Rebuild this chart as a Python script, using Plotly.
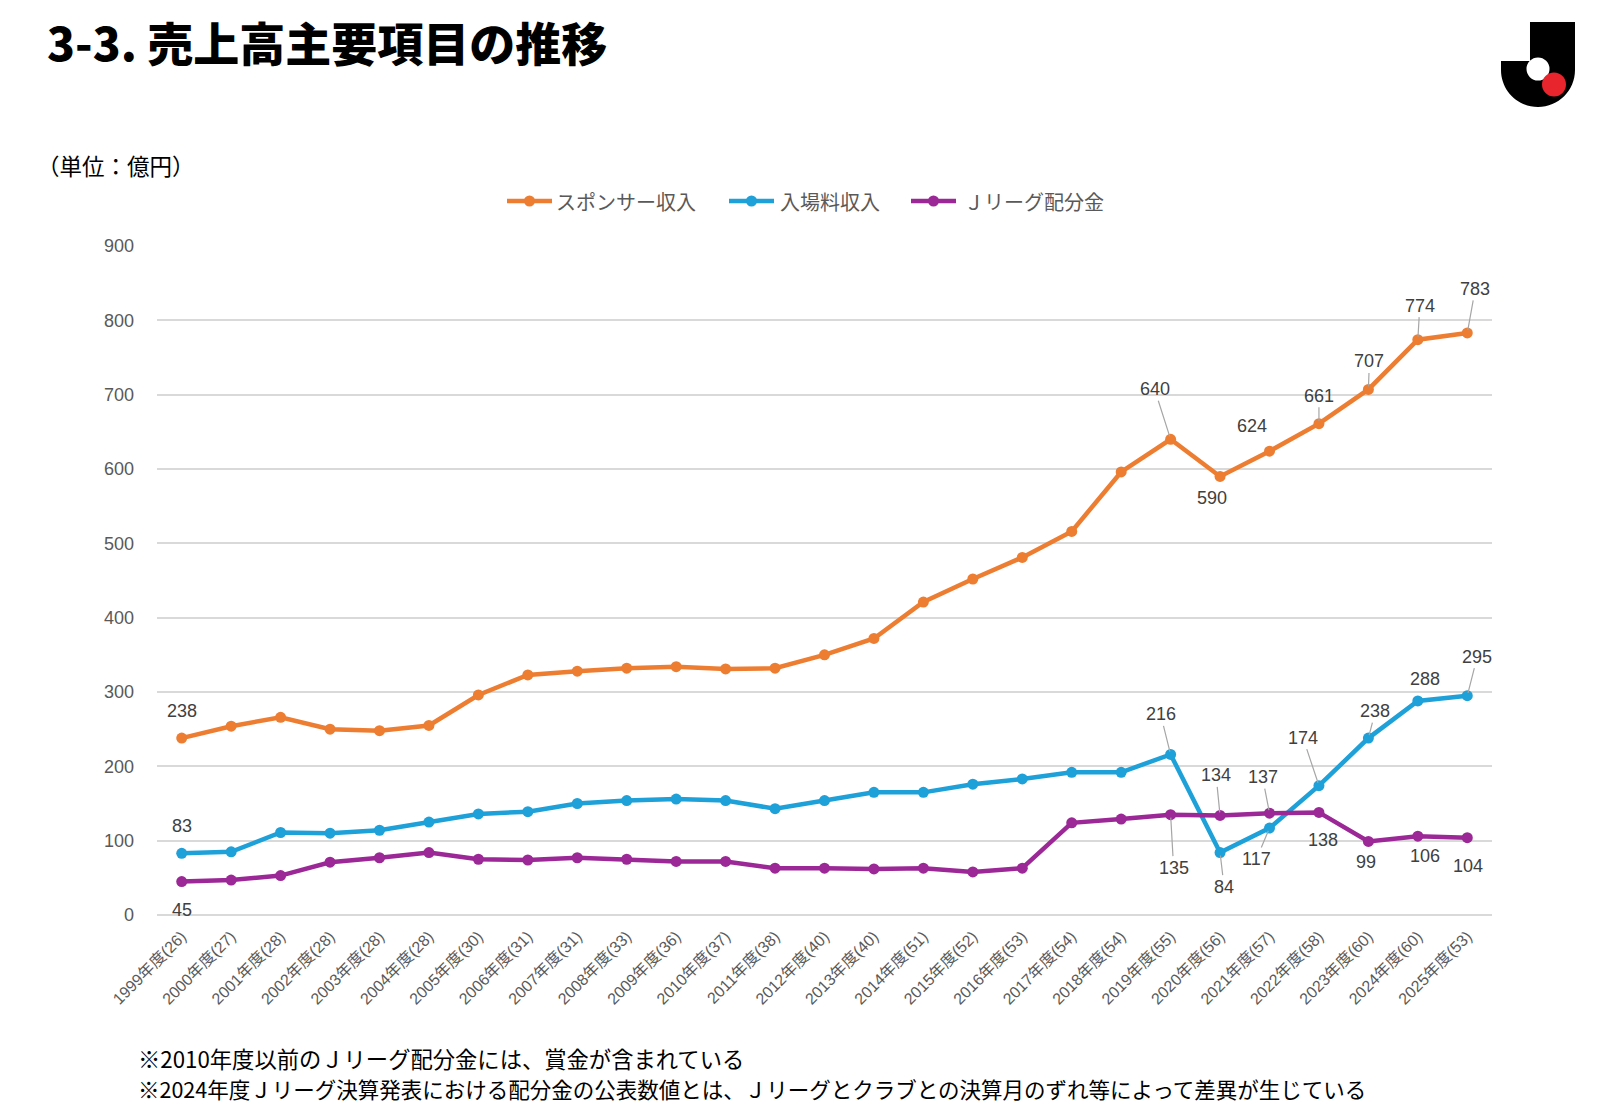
import plotly.graph_objects as go

# ---------------- DATA ----------------
categories = [
    "1999年度(26)", "2000年度(27)", "2001年度(28)", "2002年度(28)", "2003年度(28)",
    "2004年度(28)", "2005年度(30)", "2006年度(31)", "2007年度(31)", "2008年度(33)",
    "2009年度(36)", "2010年度(37)", "2011年度(38)", "2012年度(40)", "2013年度(40)",
    "2014年度(51)", "2015年度(52)", "2016年度(53)", "2017年度(54)", "2018年度(54)",
    "2019年度(55)", "2020年度(56)", "2021年度(57)", "2022年度(58)", "2023年度(60)",
    "2024年度(60)", "2025年度(53)",
]
sponsor = [238, 254, 266, 250, 248, 255, 296, 323, 328, 332, 334, 331, 332, 350, 372,
           421, 452, 481, 516, 596, 640, 590, 624, 661, 707, 774, 783]
ticket = [83, 85, 111, 110, 114, 125, 136, 139, 150, 154, 156, 154, 143, 154, 165,
          165, 176, 183, 192, 192, 216, 84, 117, 174, 238, 288, 295]
distribution = [45, 47, 53, 71, 77, 84, 75, 74, 77, 75, 72, 72, 63, 63, 62,
                63, 58, 63, 124, 129, 135, 134, 137, 138, 99, 106, 104]
series_names = ["スポンサー収入", "入場料収入", "Ｊリーグ配分金"]
y_ticks = [0, 100, 200, 300, 400, 500, 600, 700, 800, 900]

title_text = "3-3. 売上高主要項目の推移"
unit_text = "（単位：億円）"
notes = [
    "※2010年度以前のＪリーグ配分金には、賞金が含まれている",
    "※2024年度Ｊリーグ決算発表における配分金の公表数値とは、Ｊリーグとクラブとの決算月のずれ等によって差異が生じている",
]

# ---------------- STYLE ----------------
OFF = 8                      # default page body margin
W, H = 1600 - OFF, 1112 - OFF
ML, MR, MT, MB = 149, 108, 238, 197
PW, PH = W - ML - MR, H - MT - MB

def px(x):  # screenshot pixel -> paper
    return (x - OFF - ML) / PW

def py(y):
    return (H - MB - (y - OFF)) / PH

colors = ["#ED7D31", "#1EA0D8", "#9B2896"]
FONT_NUM = "Liberation Sans, Arial, Noto Sans CJK JP, sans-serif"
FONT_JP = "Noto Sans CJK JP, sans-serif"
GRID = "#D9D9D9"
LINE_W, MARK = 4.5, 11

# label placement: index -> (dx, dy, leader line)
label_pos = [
    {0: (0, -27, False), 20: (-16, -50, True), 21: (-8, 22, False), 22: (-18, -25, False),
     23: (0, -28, True), 24: (1, -28, True), 25: (2, -34, True), 26: (8, -44, True)},
    {0: (0, -27, False), 20: (-10, -40, True), 21: (4, 34, True), 22: (-13, 31, True),
     23: (-16, -48, True), 24: (7, -27, True), 25: (7, -22, False), 26: (10, -39, True)},
    {0: (0, 28, False), 20: (3, 53, True), 21: (-4, -40, True), 22: (-7, -36, True),
     23: (4, 28, False), 24: (-2, 21, False), 25: (7, 20, False), 26: (1, 28, False)},
]
# manual legend: (line start x, text start x) in screenshot pixels
legend_pos = [(507, 556), (729, 780), (911, 964)]
LEG_Y, LEG_LEN = 201, 45

fig = go.Figure()
all_series = [sponsor, ticket, distribution]
for name, vals, col in zip(series_names, all_series, colors):
    fig.add_trace(go.Scatter(
        x=categories, y=vals, name=name, mode="lines+markers",
        line=dict(color=col, width=LINE_W),
        marker=dict(color=col, size=MARK),
        showlegend=False,
    ))

annotations = []
shapes = []
for vals, pos in zip(all_series, label_pos):
    for i, (dx, dy, leader) in pos.items():
        annotations.append(dict(
            x=categories[i], y=vals[i], xref="x", yref="y",
            text=str(vals[i]), showarrow=True, arrowhead=0,
            arrowwidth=1.2, arrowcolor="#A6A6A6" if leader else "rgba(0,0,0,0)",
            ax=dx, ay=dy, standoff=3,
            font=dict(family=FONT_NUM, size=18, color="#404040"),
        ))

# legend
for name, col, (lx, tx) in zip(series_names, colors, legend_pos):
    shapes.append(dict(type="line", xref="paper", yref="paper",
                       x0=px(lx), x1=px(lx + LEG_LEN), y0=py(LEG_Y), y1=py(LEG_Y),
                       line=dict(color=col, width=LINE_W)))
    mx = lx + LEG_LEN / 2
    shapes.append(dict(type="circle", xref="paper", yref="paper",
                       x0=px(mx - 5.5), x1=px(mx + 5.5), y0=py(LEG_Y + 5.5), y1=py(LEG_Y - 5.5),
                       fillcolor=col, line=dict(width=0)))
    annotations.append(dict(
        x=px(tx - 2), y=py(LEG_Y), xref="paper", yref="paper", xanchor="left",
        yanchor="middle", text=name, showarrow=False,
        font=dict(family=FONT_JP, size=20, color="#595959"),
    ))

# title, unit, notes
annotations.append(dict(
    x=px(45), y=py(41), xref="paper", yref="paper", xanchor="left", yanchor="middle",
    text=title_text, showarrow=False,
    font=dict(family=FONT_JP, size=46, color="#000000", weight=900),
))
annotations.append(dict(
    x=px(35), y=py(165), xref="paper", yref="paper", xanchor="left", yanchor="middle",
    text=unit_text, showarrow=False,
    font=dict(family=FONT_JP, size=22.5, color="#000000"),
))
for k, (note, fs) in enumerate(zip(notes, [22.3, 21.5])):
    annotations.append(dict(
        x=px(136), y=py(1058 + 30 * k), xref="paper", yref="paper",
        xanchor="left", yanchor="middle", text=note, showarrow=False,
        font=dict(family=FONT_JP, size=fs, color="#000000"),
    ))

# J-League logo
k = 0.5523
cx, cy, r = 1538, 70, 37
pts = [
    ("M", [(1530, 22)]), ("L", [(1575, 22)]), ("L", [(1575, cy)]),
    ("C", [(1575, cy + r * k), (cx + r * k, cy + r), (cx, cy + r)]),
    ("C", [(cx - r * k, cy + r), (1501, cy + r * k), (1501, cy)]),
    ("L", [(1501, 61)]), ("L", [(1530, 61)]),
]
path = ""
for cmd, ps in pts:
    path += cmd + " ".join(f"{px(a):.5f},{py(b):.5f}" for a, b in ps) + " "
path += "Z"
shapes += [
    dict(type="path", path=path, xref="paper", yref="paper",
         fillcolor="#000000", line=dict(width=0), layer="above"),
    dict(type="circle", xref="paper", yref="paper",
         x0=px(1538 - 11.5), x1=px(1538 + 11.5), y0=py(69 + 11.5), y1=py(69 - 11.5),
         fillcolor="#FFFFFF", line=dict(width=0), layer="above"),
    dict(type="circle", xref="paper", yref="paper",
         x0=px(1554 - 12), x1=px(1554 + 12), y0=py(84.5 + 12), y1=py(84.5 - 12),
         fillcolor="#E8242D", line=dict(width=0), layer="above"),
]

fig.update_layout(
    width=W, height=H,
    margin=dict(l=ML, r=MR, t=MT, b=MB, autoexpand=False),
    paper_bgcolor="white", plot_bgcolor="white",
    showlegend=False,
    xaxis=dict(
        type="category", range=[-0.5, len(categories) - 0.5],
        showgrid=False, showline=False, zeroline=False, ticks="",
        tickangle=-45, ticklabelstandoff=8,
        tickfont=dict(family=FONT_NUM, size=16, color="#595959"),
        fixedrange=True,
    ),
    yaxis=dict(
        range=[0, 900], tickvals=y_ticks,
        showgrid=True, gridcolor=GRID, gridwidth=1.5,
        zeroline=True, zerolinecolor=GRID, zerolinewidth=1.5,
        showline=False, ticks="", ticklabelstandoff=22,
        tickfont=dict(family=FONT_NUM, size=18, color="#595959"),
        fixedrange=True,
    ),
    annotations=annotations,
    shapes=shapes,
)

fig.write_html("out.html")
